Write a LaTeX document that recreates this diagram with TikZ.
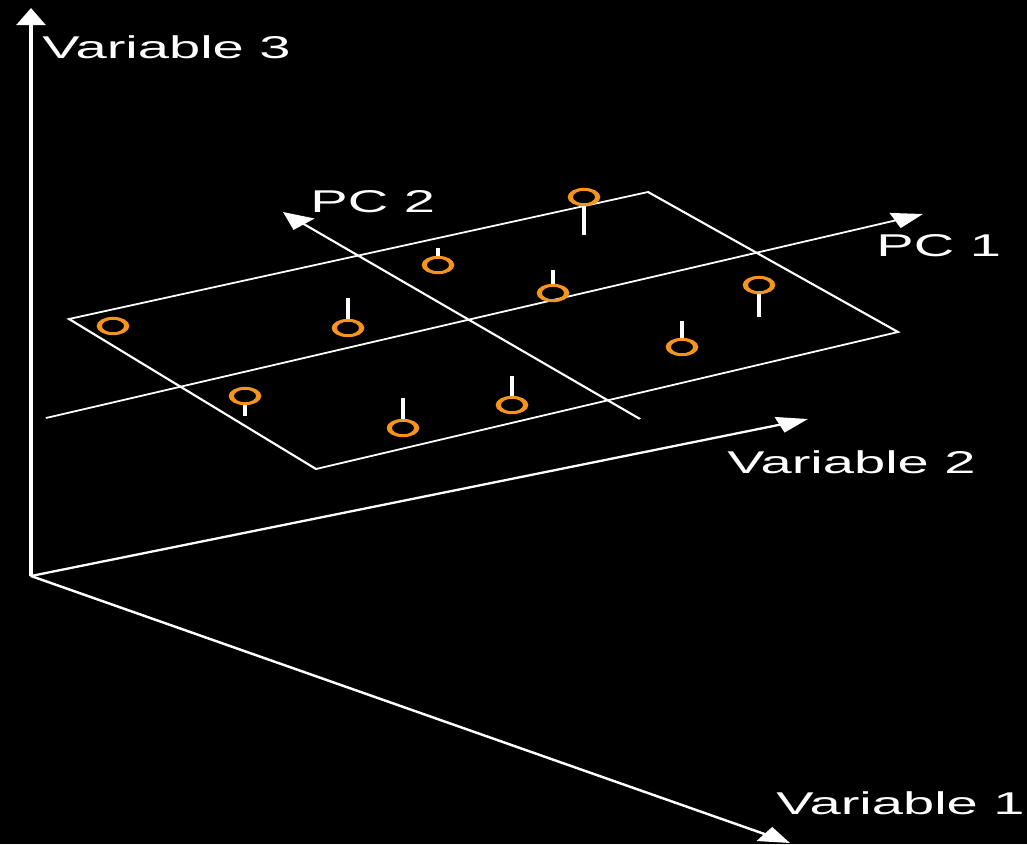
\documentclass[tikz,border=0pt]{standalone}
\usepackage{fontspec}
\setmainfont{Liberation Sans}
\usetikzlibrary{arrows.meta}
\definecolor{pcorange}{RGB}{247,148,30}
\begin{document}
\begin{tikzpicture}[x=1pt,y=-1pt,
  tip/.style={-{Triangle[length=17pt,width=16pt]}},
  axis/.style={draw=white,line width=2.2pt,tip},
  planeedge/.style={draw=white,line width=1.7pt,line join=miter},
  pcaxis/.style={draw=white,line width=1.7pt,tip},
  obs/.style={circle,draw=pcorange,line width=2.9pt,inner sep=0pt,minimum size=15.4pt},
  stem/.style={draw=white,line width=2.1pt},
  lbl/.style={text=white,font=\fontsize{31.5}{32}\selectfont,inner sep=0pt,anchor=base west}]
\fill[black] (0,0) rectangle (1027,844);
\useasboundingbox (0,0) rectangle (1027,844);
% the whole drawing is set in a horizontally stretched frame
\begin{scope}[transform canvas={xscale=1.78},x={(0.5618pt,0pt)}]
  % variable axes
  \coordinate (O) at (31,576);
  \coordinate (v1) at (790,843);
  \coordinate (v2) at (808,419);
  \coordinate (v3) at (31,8);
  \draw[axis] (O) -- (v1);
  \draw[axis] (O) -- (v2);
  \draw[axis] (O) -- (v3);
  \node[lbl] (l1) at (776,814) {Variable 1};
  \node[lbl] (l2) at (727,473) {Variable 2};
  \node[lbl] (l3) at (42,58) {Variable 3};

  % plane spanned by the principal components
  \coordinate (c1) at (69,319);
  \coordinate (c2) at (648,192);
  \coordinate (c3) at (898,332);
  \coordinate (c4) at (316,469);
  \draw[planeedge] (c1) -- (c2) -- (c3) -- (c4) -- cycle;

  % principal component axes
  \coordinate (pc1a) at (46,418);
  \coordinate (pc1b) at (923,214);
  \coordinate (pc2a) at (640,419);
  \coordinate (pc2b) at (283,212);
  \draw[pcaxis] (pc1a) -- (pc1b);
  \draw[pcaxis] (pc2a) -- (pc2b);
  \node[lbl] (lp1) at (876,256) {PC 1};
  \node[lbl] (lp2) at (310,212) {PC 2};

  % observations and their offsets from the plane
  \node[obs] (p1) at (113,326) {};
  \node[obs] (p2) at (348,328) {};
  \node[obs] (p3) at (438,265) {};
  \node[obs] (p4) at (584,197) {};
  \node[obs] (p5) at (553,293) {};
  \node[obs] (p6) at (759,285) {};
  \node[obs] (p7) at (682,347) {};
  \node[obs] (p8) at (245,396) {};
  \node[obs] (p9) at (403,428) {};
  \node[obs] (p10) at (512,405) {};

  \coordinate (s2) at (348,298);
  \coordinate (s3) at (438,248);
  \coordinate (s4) at (584,235);
  \coordinate (s5) at (553,270);
  \coordinate (s6) at (759,317);
  \coordinate (s7) at (682,321);
  \coordinate (s8) at (245,416);
  \coordinate (s9) at (403,398);
  \coordinate (s10) at (512,376);

  \draw[stem] (p2.north) -- (s2);
  \draw[stem] (p3.north) -- (s3);
  \draw[stem] (p4.south) -- (s4);
  \draw[stem] (p5.north) -- (s5);
  \draw[stem] (p6.south) -- (s6);
  \draw[stem] (p7.north) -- (s7);
  \draw[stem] (p8.south) -- (s8);
  \draw[stem] (p9.north) -- (s9);
  \draw[stem] (p10.north) -- (s10);
\end{scope}
\end{tikzpicture}
\end{document}
